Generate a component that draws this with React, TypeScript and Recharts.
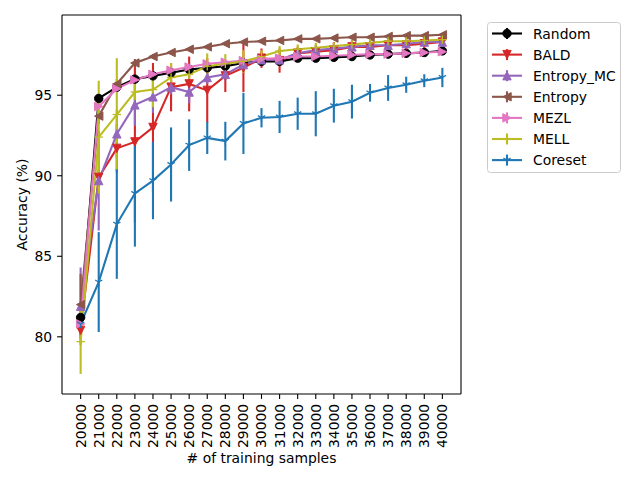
import React from 'react';
import { LineChart, Line, XAxis, YAxis, ErrorBar, ReferenceLine, Label } from 'recharts';

const samples = [20000, 21000, 22000, 23000, 24000, 25000, 26000, 27000, 28000, 29000, 30000, 31000, 32000, 33000, 34000, 35000, 36000, 37000, 38000, 39000, 40000];
const yTicks = [80, 85, 90, 95];

const random = [81.2, 94.8, 95.5, 96.0, 96.2, 96.4, 96.6, 96.7, 96.8, 97.0, 97.1, 97.1, 97.3, 97.3, 97.35, 97.4, 97.5, 97.55, 97.6, 97.65, 97.75];
const randomErr = [0.3, 0.2, 0.2, 0.15, 0.15, 0.15, 0.15, 0.1, 0.1, 0.1, 0.15, 0.1, 0.1, 0.1, 0.1, 0.1, 0.1, 0.1, 0.1, 0.1, 0.1];

const bald = [80.4, 89.9, 91.7, 92.1, 93.0, 95.5, 95.7, 95.3, 96.2, 96.7, 97.3, 97.15, 97.6, 97.7, 97.8, 98.0, 98.0, 98.1, 98.1, 98.2, 98.3];
const baldErr = [0.5, 0.5, 1.5, 5.0, 4.0, 1.5, 1.7, 2.0, 1.0, 1.5, 0.6, 0.75, 0.4, 0.4, 0.5, 0.4, 0.5, 0.4, 0.4, 0.4, 0.3];

const entropyMC = [81.9, 89.7, 92.6, 94.4, 94.9, 95.5, 95.2, 96.1, 96.3, 96.9, 97.2, 97.2, 97.6, 97.8, 97.9, 98.0, 98.1, 98.1, 98.2, 98.3, 98.3];
const entropyMCErr = [2.4, 3.1, 1.5, 1.3, 1.0, 0.45, 0.7, 0.4, 0.4, 0.3, 0.3, 0.3, 0.25, 0.2, 0.2, 0.2, 0.2, 0.2, 0.2, 0.2, 0.2];

const entropy = [82.0, 93.7, 95.7, 97.0, 97.4, 97.65, 97.85, 98.0, 98.2, 98.3, 98.35, 98.4, 98.5, 98.5, 98.55, 98.6, 98.6, 98.65, 98.7, 98.7, 98.75];
const entropyErr = [1.9, 0.5, 0.3, 0.25, 0.15, 0.1, 0.1, 0.1, 0.1, 0.1, 0.1, 0.1, 0.1, 0.1, 0.1, 0.1, 0.1, 0.1, 0.1, 0.1, 0.1];

const mezl = [80.8, 94.3, 95.4, 95.95, 96.3, 96.55, 96.75, 96.95, 97.05, 97.15, 97.25, 97.3, 97.4, 97.4, 97.45, 97.5, 97.55, 97.55, 97.6, 97.65, 97.7];
const mezlErr = [0.5, 0.4, 0.2, 0.15, 0.15, 0.2, 0.2, 0.15, 0.1, 0.1, 0.1, 0.1, 0.1, 0.1, 0.1, 0.1, 0.1, 0.1, 0.1, 0.1, 0.1];

const mell = [79.7, 92.4, 93.8, 95.2, 95.35, 96.1, 96.3, 96.8, 96.95, 97.1, 97.4, 97.75, 97.85, 97.95, 98.05, 98.15, 98.25, 98.35, 98.35, 98.4, 98.45];
const mellErr = [2.0, 3.5, 3.5, 0.5, 1.1, 0.9, 0.3, 0.8, 0.6, 0.7, 0.4, 0.3, 0.3, 0.3, 0.2, 0.2, 0.2, 0.2, 0.2, 0.2, 0.2];

const coreset = [80.8, 83.4, 87.0, 88.9, 89.7, 90.7, 91.9, 92.35, 92.15, 93.25, 93.6, 93.65, 93.85, 93.85, 94.35, 94.6, 95.15, 95.45, 95.65, 95.9, 96.1];
const coresetErr = [0.3, 3.1, 3.4, 3.3, 2.4, 2.3, 1.6, 1.0, 1.2, 1.9, 0.6, 1.0, 1.0, 1.4, 1.05, 1.05, 0.55, 0.8, 0.5, 0.4, 0.6];

const series = [
  { key: 'random', name: 'Random', color: '#000000', shape: 'o', values: random, errs: randomErr },
  { key: 'bald', name: 'BALD', color: '#d62728', shape: 'v', values: bald, errs: baldErr },
  { key: 'entropyMC', name: 'Entropy_MC', color: '#9467bd', shape: '^', values: entropyMC, errs: entropyMCErr },
  { key: 'entropy', name: 'Entropy', color: '#8c564b', shape: '<', values: entropy, errs: entropyErr },
  { key: 'mezl', name: 'MEZL', color: '#e377c2', shape: '>', values: mezl, errs: mezlErr },
  { key: 'mell', name: 'MELL', color: '#bcbd22', shape: '+', values: mell, errs: mellErr },
  { key: 'coreset', name: 'Coreset', color: '#1f77b4', shape: '1', values: coreset, errs: coresetErr },
];

const data = samples.map((n, i) => {
  const row: any = { n };
  series.forEach((s) => {
    row[s.key] = s.values[i];
    row[s.key + 'Err'] = s.errs[i];
  });
  return row;
});

const FONT = 'DejaVu Sans, sans-serif';
const FS = 13.9;
const M = 4.2;

function Marker({ shape, color, x, y }: any) {
  switch (shape) {
    case 'o':
      return <circle cx={x} cy={y} r={M} fill={color} stroke={color} strokeWidth={1} />;
    case 'v':
      return <polygon points={`${x - M},${y - M} ${x + M},${y - M} ${x},${y + M}`} fill={color} stroke={color} strokeWidth={1} />;
    case '^':
      return <polygon points={`${x},${y - M} ${x - M},${y + M} ${x + M},${y + M}`} fill={color} stroke={color} strokeWidth={1} />;
    case '<':
      return <polygon points={`${x - M},${y} ${x + M},${y - M} ${x + M},${y + M}`} fill={color} stroke={color} strokeWidth={1} />;
    case '>':
      return <polygon points={`${x + M},${y} ${x - M},${y - M} ${x - M},${y + M}`} fill={color} stroke={color} strokeWidth={1} />;
    case '+':
      return (
        <g stroke={color} strokeWidth={1.3}>
          <line x1={x - M} y1={y} x2={x + M} y2={y} />
          <line x1={x} y1={y - M} x2={x} y2={y + M} />
        </g>
      );
    default:
      return (
        <g stroke={color} strokeWidth={1.3}>
          <line x1={x} y1={y} x2={x} y2={y + M} />
          <line x1={x} y1={y} x2={x - 3.6} y2={y - 2.1} />
          <line x1={x} y1={y} x2={x + 3.6} y2={y - 2.1} />
        </g>
      );
  }
}

const makeDot = (shape: string, color: string) => (props: any) => {
  const { cx, cy, index } = props;
  if (cx == null || cy == null) return <g key={index} />;
  return <Marker key={index} shape={shape} color={color} x={cx} y={cy} />;
};

const XTick = (props: any) => {
  const { x, y, payload } = props;
  return (
    <text x={x} y={y} transform={`rotate(-90 ${x} ${y})`} textAnchor="end" dominantBaseline="central" fontSize={FS} fontFamily={FONT} fill="#000">
      {payload.value}
    </text>
  );
};

const X_DOMAIN = [18970, 41030];
const Y_DOMAIN = [76.45, 99.98];

function LegendBox() {
  const left = 487;
  const top = 22;
  return (
    <svg width={640} height={480} style={{ position: 'absolute', left: 0, top: 0, pointerEvents: 'none' }}>
      <rect x={left + 0.5} y={top + 0.5} width={133} height={150} rx={3} ry={3} fill="#ffffff" fillOpacity={0.8} stroke="#cccccc" strokeWidth={1} />
      {series.map((s, i) => {
        const cy = 33.5 + i * 21.1;
        return (
          <g key={s.key}>
            <line x1={492} y1={cy} x2={522} y2={cy} stroke={s.color} strokeWidth={2.1} />
            <line x1={507} y1={cy - 5.5} x2={507} y2={cy + 5.5} stroke={s.color} strokeWidth={2.1} />
            <Marker shape={s.shape} color={s.color} x={507} y={cy} />
            <text x={533} y={cy} dominantBaseline="central" fontSize={FS} fontFamily={FONT} fill="#000">
              {s.name}
            </text>
          </g>
        );
      })}
    </svg>
  );
}

export default function App() {
  return (
    <div style={{ position: 'absolute', left: 0, top: 0, width: 640, height: 480, background: '#fff', fontFamily: FONT }}>
      <LineChart width={640} height={480} data={data} margin={{ top: 15, right: 179, bottom: 0, left: 0 }}>
        <XAxis
          dataKey="n"
          type="number"
          domain={X_DOMAIN}
          ticks={samples}
          interval={0}
          allowDataOverflow
          height={86}
          tick={<XTick />}
          tickSize={4.9}
          tickMargin={4.9}
          axisLine={{ stroke: '#000', strokeWidth: 1.1 }}
          tickLine={{ stroke: '#000', strokeWidth: 1.1 }}
        >
          <Label
            content={() => (
              <text x={261.5} y={463} textAnchor="middle" fontSize={FS} fontFamily={FONT} fill="#000">
                # of training samples
              </text>
            )}
          />
        </XAxis>
        <YAxis
          type="number"
          domain={Y_DOMAIN}
          ticks={yTicks}
          allowDataOverflow
          width={62}
          tick={{ fontSize: FS, fontFamily: FONT, fill: '#000' }}
          tickSize={4.9}
          tickMargin={4.9}
          axisLine={{ stroke: '#000', strokeWidth: 1.1 }}
          tickLine={{ stroke: '#000', strokeWidth: 1.1 }}
        >
          <Label
            content={() => (
              <text x={22} y={204.5} transform="rotate(-90 22 204.5)" textAnchor="middle" dominantBaseline="central" fontSize={FS} fontFamily={FONT} fill="#000">
                Accuracy (%)
              </text>
            )}
          />
        </YAxis>
        <ReferenceLine y={Y_DOMAIN[1]} stroke="#000" strokeWidth={1.1} ifOverflow="visible" />
        <ReferenceLine x={X_DOMAIN[1]} stroke="#000" strokeWidth={1.1} ifOverflow="visible" />
        {series.map((s) => (
          <Line
            key={s.key}
            dataKey={s.key}
            name={s.name}
            stroke={s.color}
            strokeWidth={2.1}
            type="linear"
            isAnimationActive={false}
            dot={makeDot(s.shape, s.color)}
            activeDot={false}
          >
            <ErrorBar dataKey={s.key + 'Err'} direction="y" width={0} stroke={s.color} strokeWidth={2.1} />
          </Line>
        ))}
      </LineChart>
      <LegendBox />
    </div>
  );
}
